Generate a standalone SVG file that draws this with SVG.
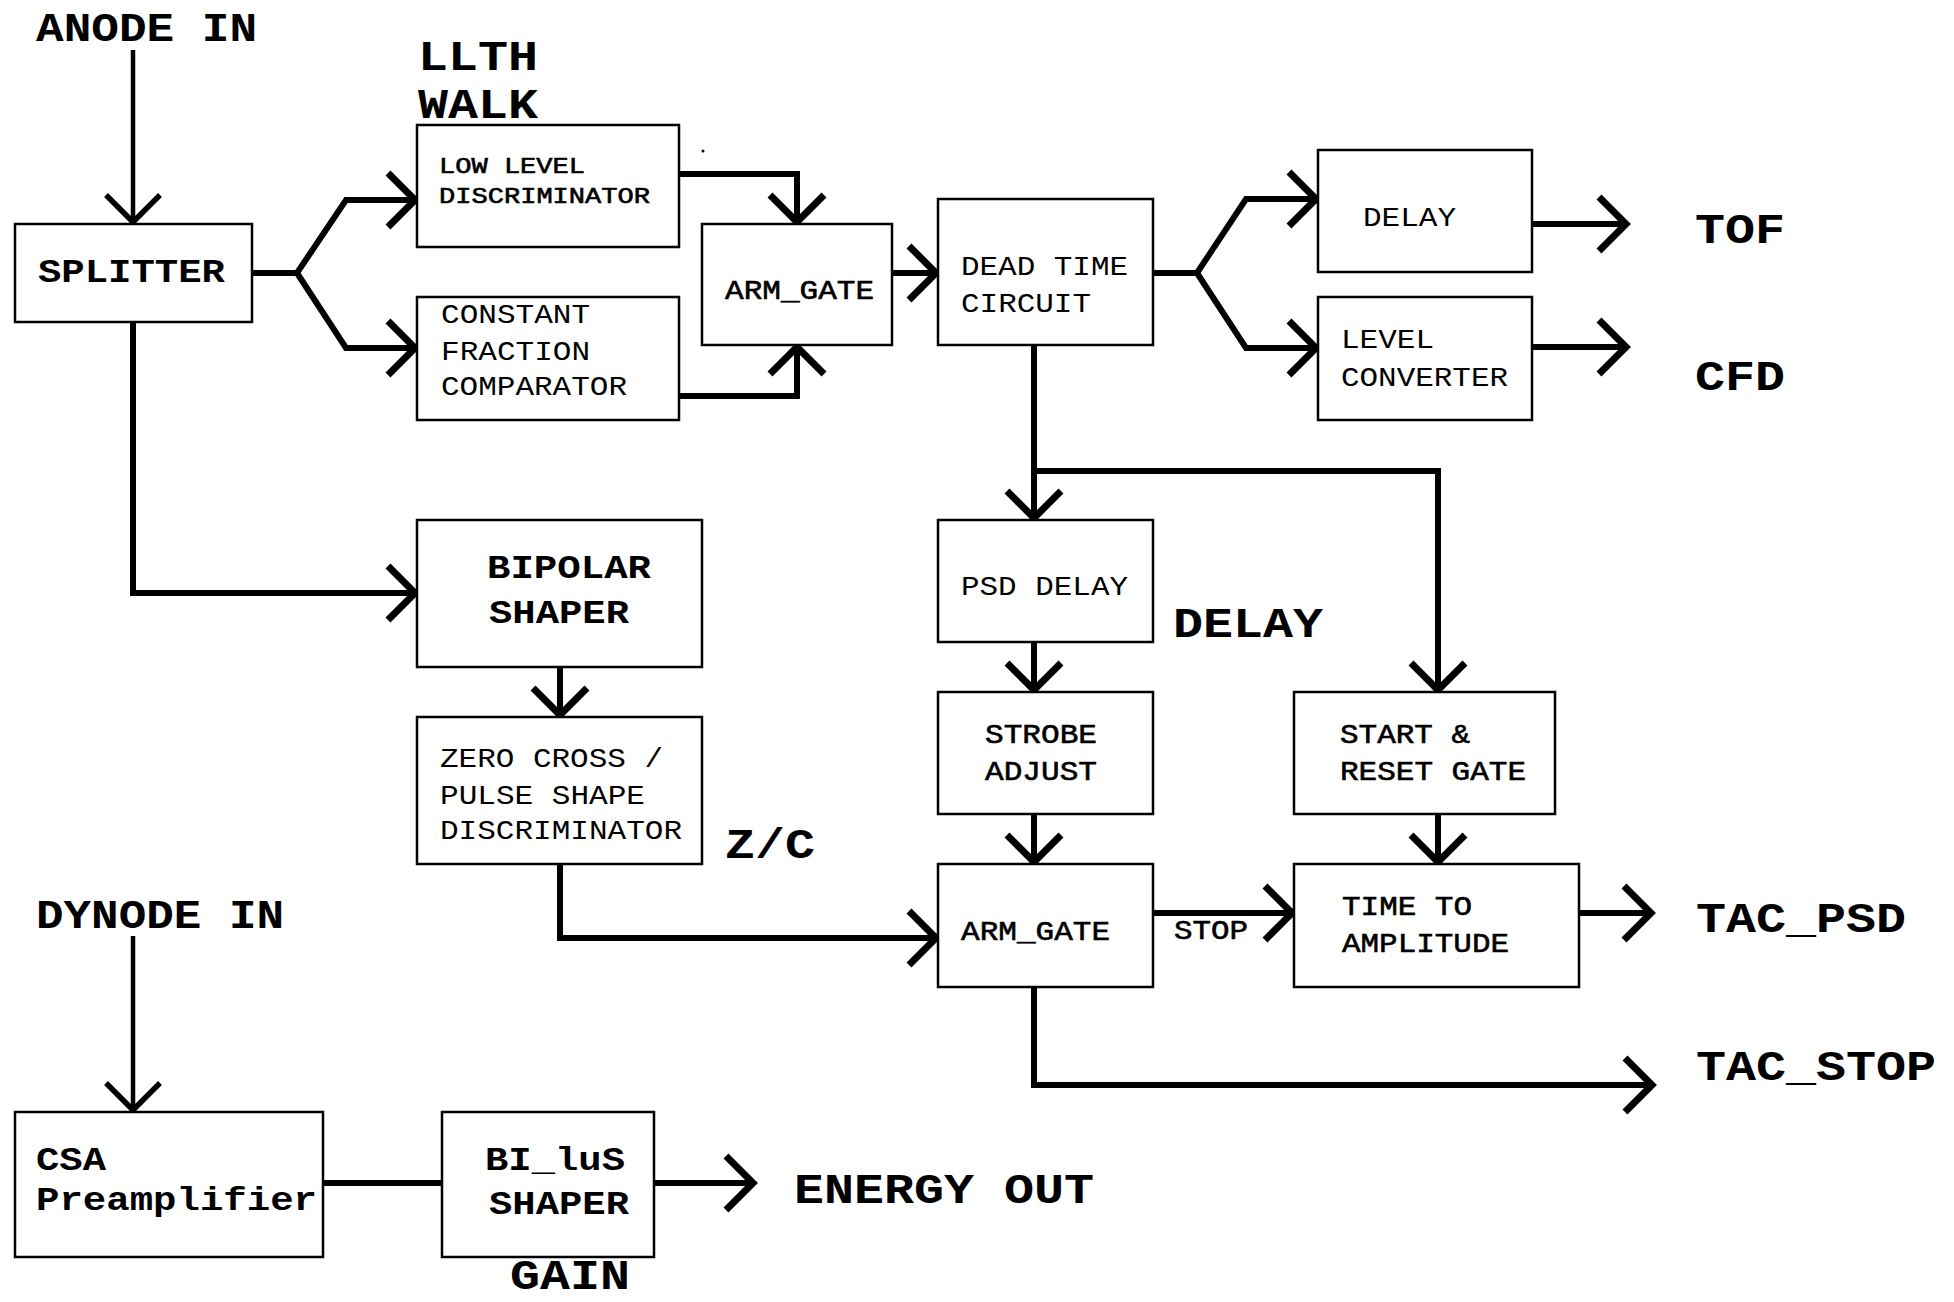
<svg xmlns="http://www.w3.org/2000/svg" width="1954" height="1302" viewBox="0 0 1954 1302">
<style>
.box{fill:#fff;stroke:#000;stroke-width:2.5}
.c{fill:none;stroke:#000;stroke-width:6;stroke-linejoin:miter;stroke-linecap:butt}
.thin{stroke-width:4.5}
text{font-family:"Liberation Mono","Courier New",monospace;fill:#000}
.big{font-size:42px;font-weight:bold}
.big46{font-size:40px;font-weight:bold}
.t{font-size:28px}
.m{stroke:#000;stroke-width:0.6}
.tb{font-size:33px;font-weight:bold}
.ts{font-size:22px}
.stop{font-size:27px}
</style>
<defs>
<marker id="ah" markerUnits="userSpaceOnUse" orient="auto" markerWidth="80" markerHeight="80" refX="0" refY="0" viewBox="-40 -40 80 80" overflow="visible">
<path d="M-29,-27 L-2,0 L-29,27" fill="none" stroke="#000" stroke-width="7" stroke-linejoin="miter"/>
</marker>
<marker id="aht" markerUnits="userSpaceOnUse" orient="auto" markerWidth="80" markerHeight="80" refX="0" refY="0" viewBox="-40 -40 80 80" overflow="visible">
<path d="M-29,-27 L-2,0 L-29,27" fill="none" stroke="#000" stroke-width="5.5" stroke-linejoin="miter"/>
</marker>
</defs>
<rect width="1954" height="1302" fill="#fff"/>

<g id="connectors">
<path class="c thin" d="M133,50 V224" marker-end="url(#aht)"/>
<path class="c" d="M252,273 H297 L346,200 H417" marker-end="url(#ah)"/>
<path class="c" d="M297,273 L346,348 H417" marker-end="url(#ah)"/>
<path class="c" d="M679,174 H797 V224" marker-end="url(#ah)"/>
<path class="c" d="M679,396 H797 V345" marker-end="url(#ah)"/>
<path class="c" d="M892,273 H938" marker-end="url(#ah)"/>
<path class="c" d="M1153,273 H1197 L1246,199 H1318" marker-end="url(#ah)"/>
<path class="c" d="M1197,273 L1246,348 H1318" marker-end="url(#ah)"/>
<path class="c" d="M1532,224 H1628" marker-end="url(#ah)"/>
<path class="c" d="M1532,347 H1628" marker-end="url(#ah)"/>
<path class="c" d="M1034,345 V520" marker-end="url(#ah)"/>
<path class="c" d="M1034,471 H1438 V692" marker-end="url(#ah)"/>
<path class="c" d="M1034,642 V692" marker-end="url(#ah)"/>
<path class="c" d="M1034,814 V864" marker-end="url(#ah)"/>
<path class="c" d="M1438,814 V864" marker-end="url(#ah)"/>
<path class="c" d="M1153,913 H1294" marker-end="url(#ah)"/>
<path class="c" d="M1579,913 H1653" marker-end="url(#ah)"/>
<path class="c" d="M1034,987 V1085 H1654" marker-end="url(#ah)"/>
<path class="c" d="M133,322 V593 H417" marker-end="url(#ah)"/>
<path class="c" d="M560,667 V717" marker-end="url(#ah)"/>
<path class="c" d="M560,864 V938 H938" marker-end="url(#ah)"/>
<path class="c thin" d="M133,936 V1112" marker-end="url(#aht)"/>
<path class="c" d="M323,1183 H442"/>
<path class="c" d="M654,1183 H755" marker-end="url(#ah)"/>
<circle cx="703" cy="151" r="1.5" fill="#000"/>
</g>

<g id="labels">
<text class="big46" x="36" y="41" textLength="221" lengthAdjust="spacingAndGlyphs">ANODE IN</text>
<text class="big" x="418" y="70" textLength="120" lengthAdjust="spacingAndGlyphs">LLTH</text>
<text class="big" x="418" y="118" textLength="120" lengthAdjust="spacingAndGlyphs">WALK</text>
<text class="big" x="1695" y="243" textLength="90" lengthAdjust="spacingAndGlyphs">TOF</text>
<text class="big" x="1695" y="390" textLength="90" lengthAdjust="spacingAndGlyphs">CFD</text>
<text class="big" x="1173" y="637" textLength="150" lengthAdjust="spacingAndGlyphs">DELAY</text>
<text class="big" x="725" y="858" textLength="90" lengthAdjust="spacingAndGlyphs">Z/C</text>
<text class="big" x="1696" y="932" textLength="210" lengthAdjust="spacingAndGlyphs">TAC_PSD</text>
<text class="big" x="1696" y="1080" textLength="240" lengthAdjust="spacingAndGlyphs">TAC_STOP</text>
<text class="big46" x="36" y="928" textLength="248" lengthAdjust="spacingAndGlyphs">DYNODE IN</text>
<text class="big" x="794" y="1203" textLength="300" lengthAdjust="spacingAndGlyphs">ENERGY OUT</text>
<text class="big" x="510" y="1289" textLength="120" lengthAdjust="spacingAndGlyphs">GAIN</text>
<text class="stop m" x="1174" y="939" textLength="74" lengthAdjust="spacingAndGlyphs">STOP</text>
</g>

<g id="splitter"><rect class="box" x="15" y="224" width="237" height="98"/><text class="tb" x="38" y="282" textLength="187" lengthAdjust="spacingAndGlyphs">SPLITTER</text></g>
<g id="lld"><rect class="box" x="417" y="125" width="262" height="122"/><text class="ts m" x="439" y="173" textLength="146" lengthAdjust="spacingAndGlyphs">LOW LEVEL</text><text class="ts m" x="439" y="203" textLength="211" lengthAdjust="spacingAndGlyphs">DISCRIMINATOR</text></g>
<g id="cfc"><rect class="box" x="417" y="297" width="262" height="123"/><text class="t" x="441" y="323" textLength="149" lengthAdjust="spacingAndGlyphs">CONSTANT</text><text class="t" x="441" y="360" textLength="149" lengthAdjust="spacingAndGlyphs">FRACTION</text><text class="t" x="441" y="395" textLength="186" lengthAdjust="spacingAndGlyphs">COMPARATOR</text></g>
<g id="armgate1"><rect class="box" x="702" y="224" width="190" height="121"/><text class="t m" x="725" y="299" textLength="149" lengthAdjust="spacingAndGlyphs">ARM_GATE</text></g>
<g id="deadtime"><rect class="box" x="938" y="199" width="215" height="146"/><text class="t" x="961" y="275" textLength="167" lengthAdjust="spacingAndGlyphs">DEAD TIME</text><text class="t" x="961" y="312" textLength="130" lengthAdjust="spacingAndGlyphs">CIRCUIT</text></g>
<g id="delay"><rect class="box" x="1318" y="150" width="214" height="122"/><text class="t" x="1363" y="226" textLength="93" lengthAdjust="spacingAndGlyphs">DELAY</text></g>
<g id="levelconv"><rect class="box" x="1318" y="297" width="214" height="123"/><text class="t" x="1341" y="348" textLength="93" lengthAdjust="spacingAndGlyphs">LEVEL</text><text class="t" x="1341" y="386" textLength="167" lengthAdjust="spacingAndGlyphs">CONVERTER</text></g>
<g id="bipolar"><rect class="box" x="417" y="520" width="285" height="147"/><text class="tb" x="487" y="578" textLength="164" lengthAdjust="spacingAndGlyphs">BIPOLAR</text><text class="tb" x="489" y="623" textLength="140" lengthAdjust="spacingAndGlyphs">SHAPER</text></g>
<g id="zerocross"><rect class="box" x="417" y="717" width="285" height="147"/><text class="t" x="440" y="767" textLength="223" lengthAdjust="spacingAndGlyphs">ZERO CROSS /</text><text class="t" x="440" y="804" textLength="205" lengthAdjust="spacingAndGlyphs">PULSE SHAPE</text><text class="t" x="440" y="839" textLength="242" lengthAdjust="spacingAndGlyphs">DISCRIMINATOR</text></g>
<g id="psddelay"><rect class="box" x="938" y="520" width="215" height="122"/><text class="t" x="961" y="595" textLength="167" lengthAdjust="spacingAndGlyphs">PSD DELAY</text></g>
<g id="strobe"><rect class="box" x="938" y="692" width="215" height="122"/><text class="t m" x="985" y="743" textLength="112" lengthAdjust="spacingAndGlyphs">STROBE</text><text class="t m" x="985" y="780" textLength="112" lengthAdjust="spacingAndGlyphs">ADJUST</text></g>
<g id="startreset"><rect class="box" x="1294" y="692" width="261" height="122"/><text class="t m" x="1340" y="743" textLength="130" lengthAdjust="spacingAndGlyphs">START &amp;</text><text class="t m" x="1340" y="780" textLength="186" lengthAdjust="spacingAndGlyphs">RESET GATE</text></g>
<g id="armgate2"><rect class="box" x="938" y="864" width="215" height="123"/><text class="t m" x="961" y="940" textLength="149" lengthAdjust="spacingAndGlyphs">ARM_GATE</text></g>
<g id="tac"><rect class="box" x="1294" y="864" width="285" height="123"/><text class="t m" x="1342" y="915" textLength="130" lengthAdjust="spacingAndGlyphs">TIME TO</text><text class="t m" x="1342" y="952" textLength="167" lengthAdjust="spacingAndGlyphs">AMPLITUDE</text></g>
<g id="csa"><rect class="box" x="15" y="1112" width="308" height="145"/><text class="tb" x="36" y="1170" textLength="70" lengthAdjust="spacingAndGlyphs">CSA</text><text class="tb" x="36" y="1210" textLength="281" lengthAdjust="spacingAndGlyphs">Preamplifier</text></g>
<g id="bishaper"><rect class="box" x="442" y="1112" width="212" height="145"/><text class="tb" x="485" y="1170" textLength="140" lengthAdjust="spacingAndGlyphs">BI_luS</text><text class="tb" x="489" y="1214" textLength="140" lengthAdjust="spacingAndGlyphs">SHAPER</text></g>
</svg>
